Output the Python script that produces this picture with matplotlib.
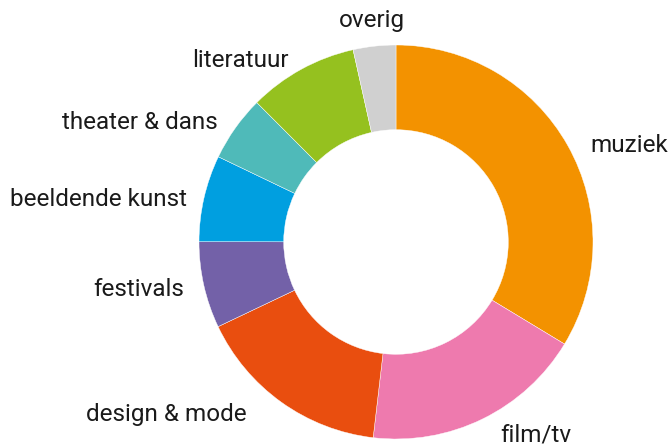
import numpy as np
import matplotlib
matplotlib.use("Agg")
import matplotlib.pyplot as plt

categories = ["muziek", "film/tv", "design & mode", "festivals",
              "beeldende kunst", "theater & dans", "literatuur", "overig"]
values = [33.7, 18.2, 16.1, 7.1, 7.1, 5.4, 9.0, 3.5]
colors = ["#F39200", "#EE7AAE", "#E94E0F", "#7361A8",
          "#009FE0", "#4FBAB9", "#95C11F", "#D0D0D0"]

plt.rcParams['font.family'] = ['Roboto', 'DejaVu Sans']

fig = plt.figure(figsize=(6.68, 4.48), dpi=100)
ax = fig.add_axes([0, 0, 1, 1])

cx, cy, R = 396, 206, 197
wedges, _ = ax.pie(values, colors=colors, startangle=90, counterclock=False,
                   center=(cx, cy), radius=R, frame=True,
                   wedgeprops=dict(width=R * 0.43, edgecolor='white', linewidth=0.3))
ax.set_xlim(0, 668)
ax.set_ylim(0, 448)
ax.set_aspect('equal')
ax.axis('off')

# label nudges in pixels (dx right, dy down)
nudge = {"muziek": (6, 10), "film/tv": (9, -2), "design & mode": (-23, -4),
         "festivals": (0, 0), "beeldende kunst": (2, 6), "theater & dans": (-1, 6),
         "literatuur": (-3, 8), "overig": (0, -6)}
total = sum(values)
cum = 0
for name, v in zip(categories, values):
    mid = (cum + v / 2) / total * 2 * np.pi
    cum += v
    d = 1.1 * R
    dx, dy = nudge[name]
    x = cx + d * np.sin(mid) + dx
    y = cy + d * np.cos(mid) - dy
    ha = 'left' if np.sin(mid) > 0 else 'right'
    if name == 'overig':
        ha = 'center'
    ax.text(x, y, name, ha=ha, va='center', fontsize=17.5, color='#1a1a1a')

fig.savefig("out.png", dpi=100)
